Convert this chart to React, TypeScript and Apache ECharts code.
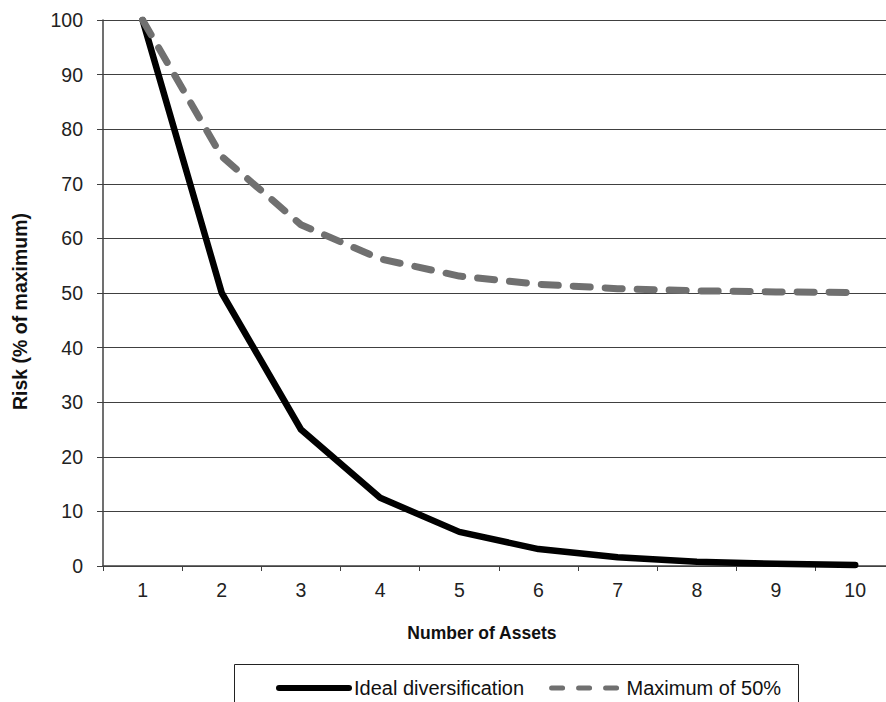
import React, { useEffect, useRef } from "react";
import * as echarts from "echarts";

const categories = ["1", "2", "3", "4", "5", "6", "7", "8", "9", "10"];
const idealValues = [100, 50, 25, 12.5, 6.25, 3.1, 1.6, 0.8, 0.4, 0.2];
const maxHalfValues = [100, 75, 62.5, 56.25, 53.1, 51.6, 50.8, 50.4, 50.2, 50.1];
const seriesNames = ["Ideal diversification", "Maximum of 50%"];

export default function App() {
  const ref = useRef<HTMLDivElement>(null);
  useEffect(() => {
    if (!ref.current) return;
    const chart = echarts.init(ref.current, null, { renderer: "svg" });
    const font = "Liberation Sans, Arial, sans-serif";
    chart.setOption({
      animation: false,
      backgroundColor: "#ffffff",
      textStyle: { fontFamily: font },
      grid: { left: 103, top: 20, width: 791.8, height: 546 },
      xAxis: {
        type: "category",
        data: categories,
        boundaryGap: true,
        name: "Number of Assets",
        nameLocation: "middle",
        nameGap: 58,
        nameTextStyle: {
          fontSize: 17.5,
          fontWeight: "bold",
          color: "#111",
          fontFamily: font,
          padding: [0, 34, 0, 0],
        },
        axisLine: { lineStyle: { color: "#404040", width: 1.5 } },
        axisTick: { show: true, length: 5, alignWithLabel: false, lineStyle: { color: "#404040" } },
        axisLabel: { fontSize: 19.5, color: "#222", margin: 14, fontFamily: font },
        splitLine: { show: false },
      },
      yAxis: {
        type: "value",
        min: 0,
        max: 100,
        interval: 10,
        name: "Risk (% of maximum)",
        nameLocation: "middle",
        nameGap: 73,
        nameRotate: 90,
        nameTextStyle: {
          fontSize: 19.5,
          fontWeight: "bold",
          color: "#111",
          fontFamily: font,
          padding: [0, 37, 0, 0],
        },
        axisLine: { show: true, lineStyle: { color: "#404040", width: 1.5 } },
        axisTick: { show: true, length: 6, lineStyle: { color: "#404040" } },
        axisLabel: { fontSize: 19.5, color: "#222", margin: 20, fontFamily: font },
        splitLine: { show: true, lineStyle: { color: "#404040", width: 1 } },
      },
      legend: {
        left: 271,
        top: 673,
        itemWidth: 70,
        itemHeight: 14,
        itemGap: 25,
        textStyle: { fontSize: 20, color: "#111", fontFamily: font },
        itemStyle: { color: "rgba(0,0,0,0)", borderWidth: 0, opacity: 0 },
        lineStyle: { width: 6, cap: "round" },
        data: [
          { name: seriesNames[0] },
          { name: seriesNames[1], lineStyle: { width: 5, type: [11, 16], cap: "round" } },
        ],
      },
      graphic: [
        {
          type: "rect",
          shape: { x: 234.5, y: 664.5, width: 564, height: 60 },
          style: { fill: "none", stroke: "#222", lineWidth: 1 },
          silent: true,
          z: -1,
        },
      ],
      series: [
        {
          name: seriesNames[0],
          type: "line",
          data: idealValues,
          symbol: "none",
          lineStyle: { color: "#000000", width: 6.5, cap: "round", join: "round" },
          itemStyle: { color: "#000000" },
          z: 2,
        },
        {
          name: seriesNames[1],
          type: "line",
          data: maxHalfValues,
          symbol: "none",
          lineStyle: { color: "#707070", width: 7, type: [17, 15], cap: "round", join: "round" },
          itemStyle: { color: "#707070" },
          z: 3,
        },
      ],
    });
    return () => chart.dispose();
  }, []);
  return (
    <div
      style={{
        position: "fixed",
        left: 0,
        top: 0,
        width: 886,
        height: 702,
        overflow: "hidden",
        background: "#fff",
      }}
    >
      <div ref={ref} style={{ width: 900, height: 702 }} />
    </div>
  );
}
